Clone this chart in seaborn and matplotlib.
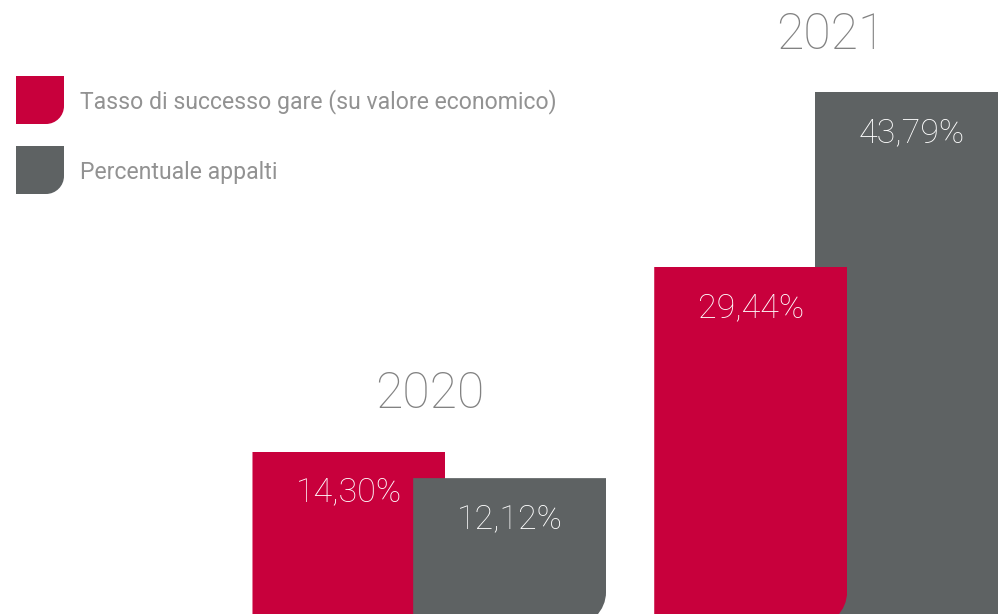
import matplotlib
matplotlib.use("Agg")
import matplotlib.pyplot as plt
import pandas as pd
import seaborn as sns
from matplotlib.path import Path
from matplotlib.patches import PathPatch
from matplotlib.transforms import IdentityTransform

# ---- data -------------------------------------------------------------
years = ["2020", "2021"]
series = ["Tasso di successo gare (su valore economico)", "Percentuale appalti"]
tasso_successo = [14.30, 29.44]
percentuale_appalti = [12.12, 43.79]
palette = ["#C8003C", "#5E6263"]

df = pd.DataFrame({
    "anno": years * 2,
    "serie": [series[0]] * len(years) + [series[1]] * len(years),
    "valore": tasso_successo + percentuale_appalti,
})

# ---- figure -----------------------------------------------------------
W, H, DPI = 998, 614, 100
sns.set_theme(style="white")
plt.rcParams["font.family"] = ["Roboto", "DejaVu Sans"]

fig = plt.figure(figsize=(W / DPI, H / DPI), dpi=DPI)
fig.patch.set_facecolor("white")
ax = fig.add_axes([0, 0, 1, 1])

sns.barplot(
    data=df, x="anno", y="valore", hue="serie",
    order=years, hue_order=series, palette=palette,
    width=0.8, gap=-0.2, saturation=1, errorbar=None,
    linewidth=0, edgecolor="none", legend=False, ax=ax,
)

# px-per-unit layout of the canvas
x_unit, x_origin = 401.75, 429.25     # pixels per category step, centre of first group
y_unit, y_base = 12.2, 626            # pixels per percentage point, baseline (below frame)
ax.set_xlim(-x_origin / x_unit, (W - x_origin) / x_unit)
ax.set_ylim((y_base - H) / y_unit, y_base / y_unit)
ax.set_axis_off()

# 2021: the red bar sits in front of the grey one
ax.containers[0][1].set_zorder(3)
ax.containers[1][0].set_zorder(2)


def rounded_bottom_right(x0, y0, x1, y1, r):
    """Rectangle path (display coords) with a rounded lower-right corner."""
    k = 0.5523 * r
    verts = [(x0, y0), (x1 - r, y0), (x1 - r + k, y0), (x1, y0 + r - k),
             (x1, y0 + r), (x1, y1), (x0, y1), (x0, y0)]
    codes = [Path.MOVETO, Path.LINETO, Path.CURVE4, Path.CURVE4, Path.CURVE4,
             Path.LINETO, Path.LINETO, Path.CLOSEPOLY]
    return Path(verts, codes)


# round the lower-right corner of every bar
for cont in ax.containers:
    for bar in cont:
        (x0, y0) = ax.transData.transform((bar.get_x(), bar.get_y()))
        (x1, y1) = ax.transData.transform((bar.get_x() + bar.get_width(),
                                            bar.get_y() + bar.get_height()))
        clip = PathPatch(rounded_bottom_right(x0, y0, x1, y1, 34),
                         transform=IdentityTransform())
        bar.set_clip_path(clip)

# value labels inside the bars
for cont, vals in zip(ax.containers, [tasso_successo, percentuale_appalti]):
    for bar, v in zip(cont, vals):
        ax.annotate(
            f"{v:.2f}".replace(".", ",") + "%",
            xy=(bar.get_x() + bar.get_width() / 2, bar.get_height()),
            xytext=(0, -18), textcoords="offset points",
            ha="center", va="top", color="white",
            fontsize=24.5, fontweight="light", zorder=6,
        )

# year labels above each group
for i, year in enumerate(years):
    top = max(tasso_successo[i], percentuale_appalti[i])
    ax.annotate(
        year, xy=(i, top), xytext=(0, 31), textcoords="offset points",
        ha="center", va="baseline", color="#828282",
        fontsize=36, fontweight="light", zorder=6,
    )

# legend: rounded swatches + labels
sw, sx, tops = 48, 16, [76, 146]
for name, color, top in zip(series, palette, tops):
    path = rounded_bottom_right(sx, H - top - sw, sx + sw, H - top, 18)
    fig.patches.append(PathPatch(path, transform=IdentityTransform(),
                                 facecolor=color, edgecolor="none"))
    fig.text(80 / W, 1 - (top + sw / 2 + 2) / H, name,
             ha="left", va="center", color="#929292",
             fontsize=16.6, fontweight="normal")

fig.savefig("out.png", dpi=DPI, facecolor="white")
